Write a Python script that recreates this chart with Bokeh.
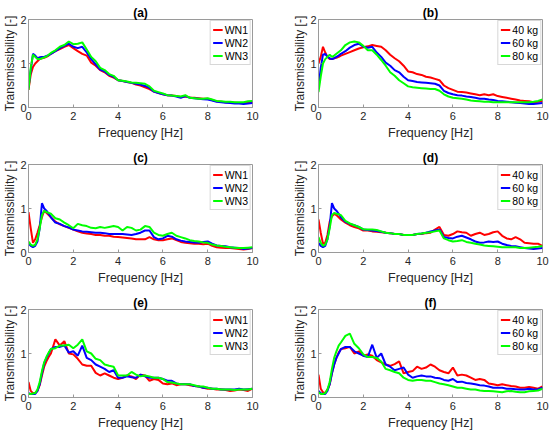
from bokeh.plotting import figure
from bokeh.layouts import gridplot
from bokeh.models import Range1d, FixedTicker
from bokeh.embed import file_html
from bokeh.resources import INLINE

# Frequency grid [Hz]
freq = [0.0, 0.1, 0.2, 0.3, 0.4, 0.5, 0.6, 0.7, 0.8, 0.9, 1.0,
        1.2, 1.4, 1.6, 1.8, 2.0, 2.2, 2.4, 2.6, 2.8, 3.0,
        3.2, 3.4, 3.6, 3.8, 4.0, 4.2, 4.4, 4.6, 4.8, 5.0,
        5.2, 5.4, 5.6, 5.8, 6.0, 6.2, 6.4, 6.6, 6.8, 7.0,
        7.2, 7.4, 7.6, 7.8, 8.0, 8.2, 8.4, 8.6, 8.8, 9.0,
        9.2, 9.4, 9.6, 9.8, 10.0]

wn_labels = ["WN1", "WN2", "WN3"]
kg_labels = ["40 kg", "60 kg", "80 kg"]
x_ticks = [0, 2, 4, 6, 8, 10]
y_ticks = [0, 1, 2]

# (a)
a_wn1 = [0.40, 0.75, 0.92, 1.00, 1.05, 1.10, 1.12, 1.13, 1.15, 1.18, 1.22,
         1.28, 1.33, 1.38, 1.42, 1.35, 1.28, 1.22, 1.18, 1.02, 0.95,
         0.85, 0.80, 0.72, 0.68, 0.62, 0.60, 0.58, 0.56, 0.52, 0.50,
         0.46, 0.42, 0.36, 0.33, 0.30, 0.28, 0.27, 0.26, 0.24, 0.25,
         0.23, 0.22, 0.21, 0.20, 0.20, 0.17, 0.14, 0.13, 0.12, 0.12,
         0.11, 0.10, 0.10, 0.11, 0.12]
a_wn2 = [0.45, 0.85, 1.22, 1.18, 1.12, 1.14, 1.15, 1.15, 1.17, 1.19, 1.22,
         1.28, 1.35, 1.40, 1.45, 1.38, 1.35, 1.38, 1.25, 1.10, 0.98,
         0.86, 0.82, 0.74, 0.70, 0.62, 0.60, 0.58, 0.56, 0.54, 0.52,
         0.49, 0.45, 0.36, 0.33, 0.30, 0.28, 0.27, 0.25, 0.22, 0.26,
         0.22, 0.21, 0.20, 0.19, 0.18, 0.16, 0.13, 0.12, 0.11, 0.10,
         0.09, 0.09, 0.08, 0.09, 0.10]
a_wn3 = [0.40, 0.90, 1.20, 1.15, 1.10, 1.10, 1.12, 1.14, 1.16, 1.20, 1.24,
         1.30, 1.38, 1.42, 1.50, 1.44, 1.45, 1.48, 1.32, 1.15, 1.05,
         0.90, 0.85, 0.76, 0.72, 0.62, 0.61, 0.59, 0.57, 0.56, 0.55,
         0.54, 0.48, 0.38, 0.35, 0.32, 0.28, 0.27, 0.26, 0.25, 0.28,
         0.22, 0.21, 0.20, 0.20, 0.21, 0.18, 0.15, 0.14, 0.13, 0.13,
         0.12, 0.12, 0.12, 0.14, 0.15]

# (b)
b_40 = [1.00, 1.15, 1.38, 1.25, 1.15, 1.10, 1.10, 1.12, 1.13, 1.15, 1.18,
        1.22, 1.26, 1.30, 1.34, 1.37, 1.39, 1.42, 1.40, 1.38, 1.30,
        1.20, 1.12, 1.05, 0.95, 0.82, 0.80, 0.76, 0.74, 0.70, 0.68,
        0.65, 0.62, 0.50, 0.44, 0.40, 0.36, 0.35, 0.34, 0.32, 0.30,
        0.28, 0.30, 0.28, 0.30, 0.26, 0.24, 0.22, 0.20, 0.18, 0.16,
        0.15, 0.14, 0.12, 0.13, 0.15]
b_60 = [0.45, 0.90, 1.20, 1.22, 1.15, 1.12, 1.10, 1.12, 1.15, 1.18, 1.22,
        1.28, 1.36, 1.42, 1.45, 1.38, 1.36, 1.38, 1.25, 1.15, 1.02,
        0.95, 0.85, 0.80, 0.70, 0.62, 0.60, 0.58, 0.57, 0.56, 0.55,
        0.54, 0.50, 0.38, 0.33, 0.30, 0.28, 0.27, 0.25, 0.24, 0.22,
        0.20, 0.20, 0.18, 0.17, 0.15, 0.14, 0.13, 0.12, 0.11, 0.10,
        0.09, 0.08, 0.08, 0.09, 0.10]
b_80 = [0.35, 0.70, 1.00, 1.10, 1.15, 1.20, 1.15, 1.18, 1.22, 1.26, 1.30,
        1.42, 1.48, 1.50, 1.48, 1.40, 1.30, 1.30, 1.20, 1.08, 0.95,
        0.80, 0.72, 0.62, 0.55, 0.48, 0.46, 0.45, 0.44, 0.43, 0.42,
        0.42, 0.38, 0.30, 0.25, 0.22, 0.21, 0.20, 0.18, 0.16, 0.15,
        0.14, 0.13, 0.13, 0.12, 0.12, 0.12, 0.12, 0.12, 0.12, 0.12,
        0.12, 0.12, 0.13, 0.15, 0.18]

# (c)
c_wn1 = [0.92, 0.55, 0.22, 0.30, 0.45, 0.62, 0.80, 0.95, 0.90, 0.85, 0.80,
         0.70, 0.64, 0.60, 0.56, 0.52, 0.48, 0.45, 0.43, 0.42, 0.40,
         0.40, 0.38, 0.38, 0.36, 0.35, 0.34, 0.33, 0.32, 0.30, 0.30,
         0.30, 0.35, 0.30, 0.28, 0.28, 0.30, 0.32, 0.28, 0.24, 0.22,
         0.21, 0.20, 0.20, 0.19, 0.20, 0.15, 0.12, 0.11, 0.10, 0.10,
         0.09, 0.08, 0.07, 0.08, 0.10]
c_wn2 = [0.20, 0.15, 0.12, 0.15, 0.25, 0.55, 1.12, 1.00, 0.95, 0.88, 0.80,
         0.68, 0.65, 0.60, 0.57, 0.52, 0.50, 0.48, 0.47, 0.46, 0.45,
         0.45, 0.44, 0.42, 0.42, 0.42, 0.42, 0.41, 0.40, 0.42, 0.45,
         0.50, 0.50, 0.35, 0.30, 0.32, 0.38, 0.36, 0.30, 0.27, 0.25,
         0.24, 0.23, 0.22, 0.24, 0.25, 0.20, 0.16, 0.15, 0.14, 0.12,
         0.11, 0.10, 0.08, 0.09, 0.10]
c_wn3 = [0.25, 0.18, 0.15, 0.18, 0.30, 0.55, 0.85, 0.95, 0.92, 0.90, 0.88,
         0.78, 0.75, 0.68, 0.62, 0.55, 0.65, 0.62, 0.60, 0.56, 0.55,
         0.58, 0.56, 0.58, 0.60, 0.58, 0.50, 0.58, 0.56, 0.50, 0.52,
         0.60, 0.58, 0.45, 0.40, 0.38, 0.42, 0.45, 0.38, 0.35, 0.32,
         0.28, 0.26, 0.25, 0.23, 0.22, 0.18, 0.16, 0.15, 0.13, 0.12,
         0.11, 0.10, 0.10, 0.11, 0.12]

# (d)
d_40 = [0.75, 0.45, 0.20, 0.22, 0.40, 0.70, 0.82, 0.88, 0.85, 0.80, 0.75,
        0.68, 0.62, 0.58, 0.55, 0.50, 0.50, 0.48, 0.47, 0.46, 0.45,
        0.44, 0.42, 0.42, 0.40, 0.40, 0.40, 0.42, 0.42, 0.44, 0.45,
        0.52, 0.58, 0.40, 0.38, 0.42, 0.48, 0.46, 0.45, 0.38, 0.42,
        0.45, 0.40, 0.42, 0.46, 0.48, 0.38, 0.32, 0.30, 0.35, 0.30,
        0.22, 0.21, 0.20, 0.20, 0.15]
d_60 = [0.22, 0.15, 0.12, 0.15, 0.30, 0.60, 1.12, 1.00, 0.95, 0.88, 0.80,
        0.70, 0.65, 0.62, 0.58, 0.52, 0.51, 0.50, 0.49, 0.47, 0.45,
        0.44, 0.42, 0.42, 0.40, 0.40, 0.40, 0.42, 0.43, 0.45, 0.48,
        0.50, 0.52, 0.35, 0.33, 0.32, 0.36, 0.38, 0.34, 0.30, 0.25,
        0.22, 0.23, 0.25, 0.24, 0.25, 0.20, 0.17, 0.15, 0.14, 0.12,
        0.10, 0.09, 0.08, 0.09, 0.10]
d_80 = [0.35, 0.22, 0.15, 0.18, 0.30, 0.55, 0.85, 0.90, 0.88, 0.87, 0.85,
        0.72, 0.66, 0.62, 0.58, 0.53, 0.52, 0.52, 0.51, 0.48, 0.45,
        0.44, 0.42, 0.42, 0.40, 0.40, 0.40, 0.42, 0.43, 0.45, 0.46,
        0.48, 0.50, 0.32, 0.28, 0.25, 0.26, 0.28, 0.24, 0.22, 0.20,
        0.18, 0.16, 0.15, 0.14, 0.13, 0.12, 0.12, 0.12, 0.12, 0.10,
        0.10, 0.11, 0.12, 0.13, 0.15]

# (e)
e_wn1 = [0.35, 0.15, 0.10, 0.10, 0.15, 0.28, 0.50, 0.70, 0.82, 0.92, 1.00,
         1.32, 1.18, 1.28, 1.00, 0.98, 0.88, 0.75, 0.72, 0.72, 0.56,
         0.50, 0.55, 0.50, 0.45, 0.42, 0.45, 0.50, 0.48, 0.42, 0.52,
         0.50, 0.38, 0.42, 0.40, 0.32, 0.30, 0.32, 0.28, 0.30, 0.30,
         0.28, 0.26, 0.25, 0.22, 0.20, 0.20, 0.18, 0.18, 0.17, 0.15,
         0.16, 0.18, 0.17, 0.15, 0.20]
e_wn2 = [0.10, 0.08, 0.08, 0.08, 0.15, 0.30, 0.55, 0.78, 0.90, 1.00, 1.10,
         1.15, 1.15, 1.18, 1.02, 1.05, 0.95, 1.18, 0.90, 0.85, 0.75,
         0.70, 0.65, 0.58, 0.62, 0.45, 0.45, 0.48, 0.46, 0.45, 0.52,
         0.48, 0.45, 0.45, 0.45, 0.42, 0.38, 0.38, 0.32, 0.30, 0.30,
         0.30, 0.26, 0.25, 0.22, 0.22, 0.20, 0.20, 0.18, 0.18, 0.18,
         0.18, 0.20, 0.18, 0.19, 0.20]
e_wn3 = [0.08, 0.08, 0.09, 0.10, 0.18, 0.35, 0.60, 0.80, 0.92, 1.02, 1.10,
         1.12, 1.18, 1.18, 1.20, 1.12, 1.20, 1.32, 1.05, 1.00, 0.88,
         0.85, 0.75, 0.72, 0.70, 0.50, 0.50, 0.50, 0.58, 0.52, 0.48,
         0.50, 0.48, 0.45, 0.45, 0.42, 0.35, 0.34, 0.32, 0.30, 0.30,
         0.30, 0.28, 0.25, 0.25, 0.22, 0.20, 0.20, 0.18, 0.18, 0.18,
         0.17, 0.18, 0.18, 0.18, 0.20]

# (f)
f_40 = [0.52, 0.20, 0.12, 0.10, 0.18, 0.30, 0.55, 0.75, 0.90, 1.02, 1.10,
        1.12, 1.15, 1.00, 1.05, 0.95, 0.98, 0.95, 0.85, 0.80, 0.75,
        0.72, 0.76, 0.82, 0.55, 0.58, 0.60, 0.70, 0.65, 0.68, 0.75,
        0.70, 0.62, 0.58, 0.55, 0.68, 0.50, 0.52, 0.50, 0.45, 0.40,
        0.42, 0.40, 0.32, 0.30, 0.28, 0.30, 0.28, 0.26, 0.25, 0.22,
        0.22, 0.24, 0.22, 0.20, 0.25]
f_60 = [0.15, 0.10, 0.08, 0.08, 0.15, 0.30, 0.55, 0.75, 0.90, 1.00, 1.10,
        1.15, 1.15, 1.05, 1.00, 0.95, 0.92, 1.20, 0.90, 1.00, 0.75,
        0.70, 0.62, 0.65, 0.68, 0.52, 0.45, 0.48, 0.50, 0.48, 0.48,
        0.45, 0.44, 0.40, 0.38, 0.42, 0.35, 0.36, 0.33, 0.32, 0.30,
        0.28, 0.27, 0.25, 0.22, 0.22, 0.22, 0.20, 0.20, 0.19, 0.18,
        0.18, 0.20, 0.18, 0.19, 0.22]
f_80 = [0.12, 0.08, 0.08, 0.10, 0.18, 0.35, 0.65, 0.90, 1.05, 1.18, 1.25,
        1.40, 1.45, 1.22, 1.12, 0.98, 0.92, 0.92, 0.90, 0.82, 0.65,
        0.62, 0.58, 0.55, 0.45, 0.40, 0.38, 0.40, 0.40, 0.38, 0.38,
        0.35, 0.32, 0.30, 0.28, 0.25, 0.22, 0.22, 0.20, 0.18, 0.18,
        0.16, 0.15, 0.15, 0.14, 0.13, 0.12, 0.14, 0.15, 0.13, 0.12,
        0.12, 0.14, 0.15, 0.16, 0.20]

COLORS = ["#ff0000", "#0000ff", "#00ff00"]
FONT = "Liberation Sans"
AXIS_C = "#9a9a9a"
TEXT_C = "#262626"


def make(title, series, labels, col):
    p = figure(frame_width=224, frame_height=88,
               x_range=Range1d(0, 10), y_range=Range1d(0, 2),
               output_backend="svg", toolbar_location=None,
               min_border_left=27 if col == 0 else 42,
               min_border_right=24 if col == 0 else 9,
               min_border_top=19, min_border_bottom=38)
    p.title.text = title
    p.title.align = "center"
    p.title.text_font = FONT
    p.title.text_font_style = "bold"
    p.title.text_font_size = "12px"
    p.title.text_color = "#000000"
    p.title.standoff = 0
    p.title.offset = 0
    for ys, lab, c in zip(series, labels, COLORS):
        p.line(freq, ys, color=c, line_width=2, legend_label=lab)
    p.xgrid.visible = False
    p.ygrid.visible = False
    p.outline_line_color = AXIS_C
    p.outline_line_width = 1
    p.background_fill_color = "white"
    p.border_fill_color = "white"
    p.xaxis.ticker = FixedTicker(ticks=x_ticks)
    p.yaxis.ticker = FixedTicker(ticks=y_ticks)
    p.xaxis.axis_label = "Frequency [Hz]"
    p.yaxis.axis_label = "Transmissibility [-]"
    for ax in (p.xaxis[0], p.yaxis[0]):
        ax.axis_line_color = AXIS_C
        ax.major_tick_line_color = AXIS_C
        ax.major_tick_in = 3
        ax.major_tick_out = 0
        ax.minor_tick_line_color = None
        ax.major_label_text_font = FONT
        ax.major_label_text_font_size = "11px"
        ax.major_label_text_color = TEXT_C
        ax.axis_label_text_font = FONT
        ax.axis_label_text_font_style = "normal"
        ax.axis_label_text_color = TEXT_C
    p.xaxis.axis_label_text_font_size = "12.5px"
    p.yaxis.axis_label_text_font_size = "12px"
    p.xaxis.major_label_standoff = 4
    p.xaxis.axis_label_standoff = 3
    p.yaxis.major_label_standoff = 2
    p.yaxis.axis_label_standoff = 0
    lg = p.legend[0]
    lg.location = "top_right"
    lg.margin = 1
    lg.padding = 2
    lg.spacing = 0
    lg.label_height = 13
    lg.glyph_height = 13
    lg.glyph_width = 10
    lg.label_standoff = 2
    lg.label_text_font = FONT
    lg.label_text_font_size = "10.5px"
    lg.label_text_color = "#000000"
    lg.border_line_color = "#b0b0b0"
    lg.border_line_width = 1
    lg.background_fill_alpha = 1.0
    return p


pa = make("(a)", [a_wn1, a_wn2, a_wn3], wn_labels, 0)
pb = make("(b)", [b_40, b_60, b_80], kg_labels, 1)
pc = make("(c)", [c_wn1, c_wn2, c_wn3], wn_labels, 0)
pd = make("(d)", [d_40, d_60, d_80], kg_labels, 1)
pe = make("(e)", [e_wn1, e_wn2, e_wn3], wn_labels, 0)
pf = make("(f)", [f_40, f_60, f_80], kg_labels, 1)

grid = gridplot([[pa, pb], [pc, pd], [pe, pf]], toolbar_location=None)

html = file_html(grid, INLINE, title="Transmissibility")
html = html.replace("<head>", "<head><style>html,body{margin:0;padding:0;}</style>", 1)
open("out.html", "w").write(html)
